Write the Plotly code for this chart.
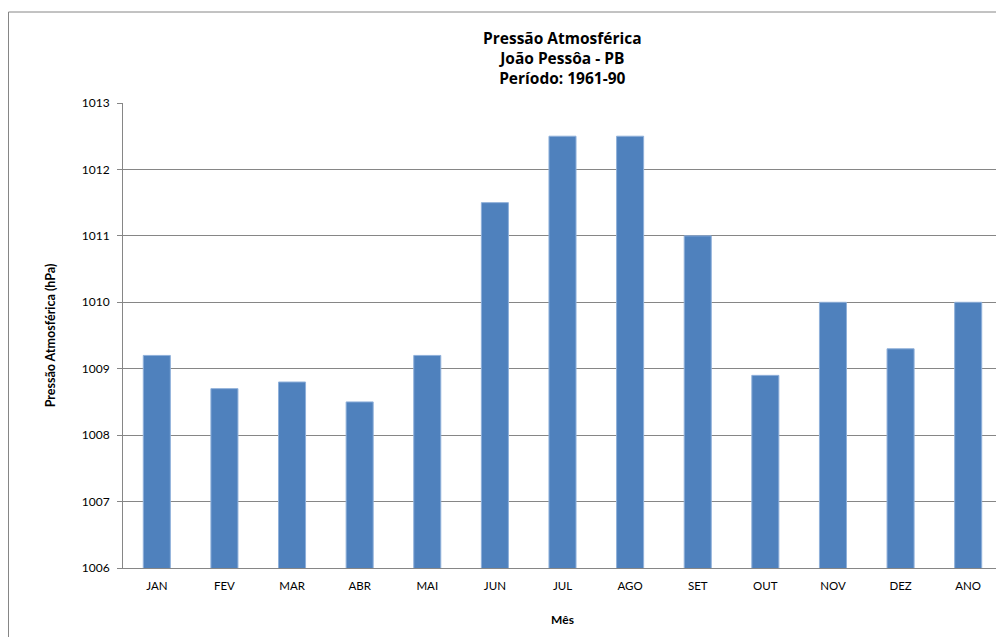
import plotly.graph_objects as go

meses = ["JAN", "FEV", "MAR", "ABR", "MAI", "JUN", "JUL", "AGO", "SET", "OUT", "NOV", "DEZ", "ANO"]
pressao = [1009.2, 1008.7, 1008.8, 1008.5, 1009.2, 1011.5, 1012.5, 1012.5, 1011.0, 1008.9, 1010.0, 1009.3, 1010.0]
y_ticks = [1006, 1007, 1008, 1009, 1010, 1011, 1012, 1013]

FONT = "Lato, Open Sans, sans-serif"
TITLE_FONT = "Open Sans, Lato, sans-serif"

# page body adds an 8px offset; figure sized so it fills the 1004x637 window
W, H = 996, 629
L, R, T, B = 115, 2, 95, 69
PW, PH = W - L - R, H - T - B

fig = go.Figure()
fig.add_trace(go.Bar(
    x=meses, y=pressao,
    marker=dict(color="#4F81BD", line=dict(color="#8FB0DA", width=1)),
    hoverinfo="x+y",
))

fig.update_layout(
    width=W, height=H,
    paper_bgcolor="white", plot_bgcolor="white",
    margin=dict(l=L, r=R, t=T, b=B, autoexpand=False),
    bargap=0.6,
    showlegend=False,
    font=dict(family=FONT, size=11, color="#000000"),
    xaxis=dict(
        showline=True, linecolor="#868686", linewidth=1,
        ticks="outside", ticklen=7, tickcolor="rgba(0,0,0,0)",
        showgrid=False, automargin=False,
        tickfont=dict(size=11.5),
        title=dict(text="<b>Mês</b>", font=dict(size=12), standoff=24),
    ),
    yaxis=dict(
        range=[1006, 1013], tickvals=y_ticks, automargin=False,
        showline=True, linecolor="#868686", linewidth=1,
        ticks="outside", ticklen=5, tickcolor="#868686",
        ticklabelstandoff=5,
        showgrid=True, gridcolor="#868686", gridwidth=1,
        tickfont=dict(size=12),
        title=dict(text="<b>Pressão Atmosférica (hPa)</b>", font=dict(size=12.5), standoff=23),
        zeroline=False,
    ),
    annotations=[dict(
        text="<b>Pressão Atmosférica<br>João Pessôa - PB<br>Período: 1961-90</b>",
        xref="paper", yref="paper", x=0.5, y=1.0 + (T - 17) / PH,
        xanchor="center", yanchor="top", showarrow=False,
        font=dict(family=TITLE_FONT, size=15.5, color="#000000"),
    )],
    shapes=[dict(type="rect", xref="paper", yref="paper",
                 x0=(0.5 - L) / PW, x1=1.02, y0=-0.2, y1=1.0 + (T - 4) / PH,
                 line=dict(color="#868686", width=1))],
)

fig.write_html("out.html")
